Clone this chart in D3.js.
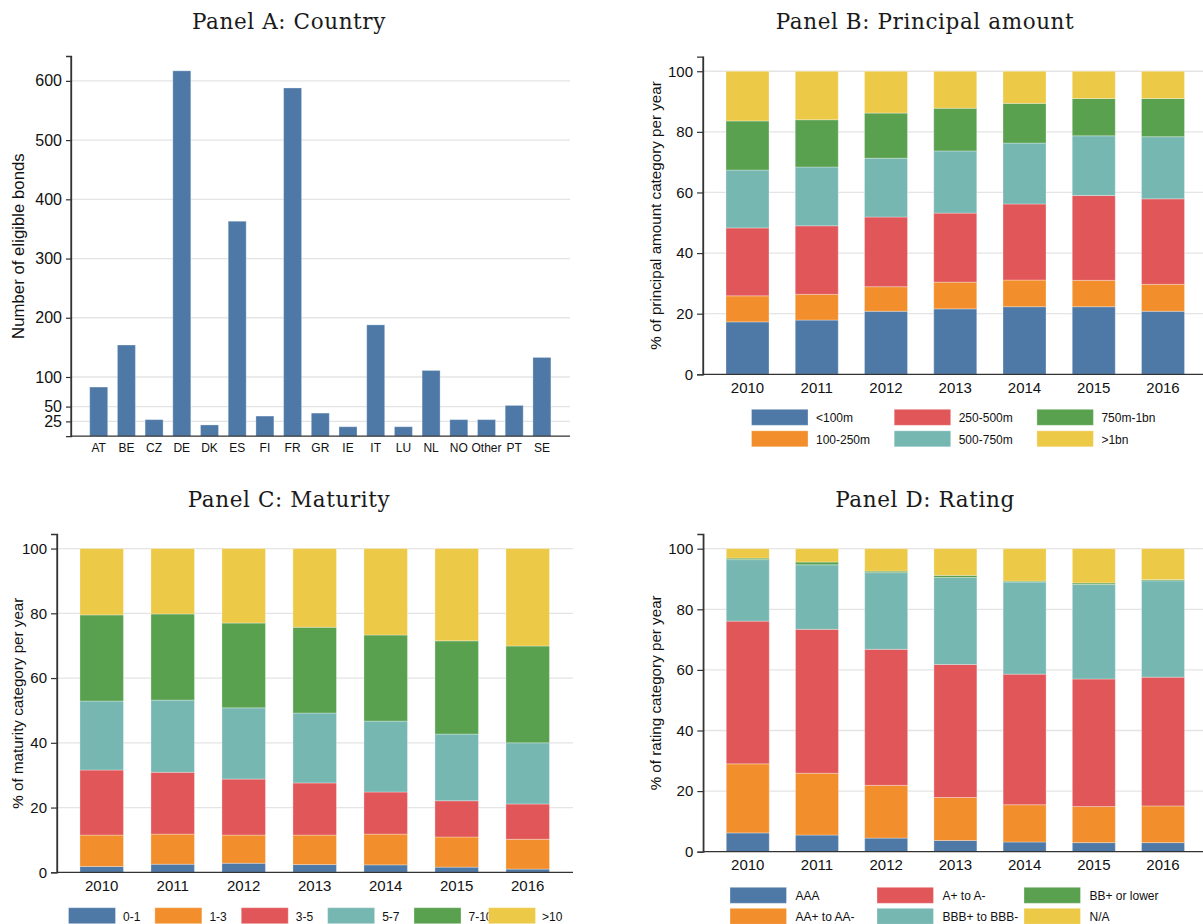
<!DOCTYPE html>
<html>
<head>
<meta charset="utf-8">
<script src="https://cdn.jsdelivr.net/npm/d3@7"></script>
<style>
  body { margin: 0; background: #fff; }
  svg { display: block; }
  .tick text { font-family: "Liberation Sans", Arial, sans-serif; fill: #111; }
  .title { font-family: "DejaVu Serif", serif; font-size: 21.5px; letter-spacing: 0.6px; fill: #1a1a1a; }
  .axlabel { font-family: "Liberation Sans", Arial, sans-serif; fill: #111; }
  .leg { font-family: "Liberation Sans", Arial, sans-serif; font-size: 12px; fill: #111; }
</style>
</head>
<body>
<svg id="chart" width="1203" height="924"></svg>
<script>
// ---------------- DATA ----------------
const countries = ["AT","BE","CZ","DE","DK","ES","FI","FR","GR","IE","IT","LU","NL","NO","Other","PT","SE"];
const countryBonds = [83,154,28,617,19,363,34,588,39,16,188,16,111,28,28,52,133];
const countryTicks = [25,50,100,200,300,400,500,600];

const years = ["2010","2011","2012","2013","2014","2015","2016"];
const pctTicks = [0,20,40,60,80,100];

// Panel B: principal amount (% per year)
const principalCats = ["<100m","100-250m","250-500m","500-750m","750m-1bn",">1bn"];
const prLt100m   = [17.3,17.9,20.8,21.6,22.3,22.3,20.8];
const pr100_250m = [8.6,8.5,8.1,8.8,8.8,8.7,8.9];
const pr250_500m = [22.4,22.6,23.0,22.8,25.1,28.0,28.2];
const pr500_750m = [19.1,19.4,19.4,20.5,20.1,19.7,20.5];
const pr750m_1bn = [16.2,15.6,14.9,14.1,13.1,12.3,12.6];
const prGt1bn    = [16.4,16.0,13.8,12.2,10.6,9.0,9.0];

// Panel C: maturity (% per year)
const maturityCats = ["0-1","1-3","3-5","5-7","7-10",">10"];
const mat0_1  = [1.8,2.5,2.8,2.4,2.3,1.6,1.0];
const mat1_3  = [9.7,9.3,8.7,9.1,9.5,9.3,9.2];
const mat3_5  = [20.1,19.1,17.3,16.1,13.0,11.2,10.9];
const mat5_7  = [21.3,22.3,22.0,21.6,21.9,20.6,18.9];
const mat7_10 = [26.6,26.6,26.2,26.5,26.6,28.8,29.9];
const matGt10 = [20.5,20.2,23.0,24.3,26.7,28.5,30.1];

// Panel D: rating (% per year)
const ratingCats = ["AAA","AA+ to AA-","A+ to A-","BBB+ to BBB-","BB+ or lower","N/A"];
const ratAAA = [6.2,5.5,4.5,3.7,3.2,3.0,3.0];
const ratAA  = [22.8,20.4,17.4,14.2,12.3,11.9,12.1];
const ratA   = [47.1,47.5,44.9,43.9,43.1,42.1,42.5];
const ratBBB = [20.3,21.3,25.3,28.7,30.4,31.2,31.8];
const ratBB  = [0.5,0.9,0.5,0.7,0.3,0.5,0.4];
const ratNA  = [3.1,4.4,7.4,8.8,10.7,11.3,10.2];

const palette = ["#4e79a7","#f28e2b","#e15759","#76b7b2","#59a14f","#edc948"];

// ---------------- HELPERS ----------------
const svg = d3.select("#chart");
const FONT = '"Liberation Sans", Arial, sans-serif';

function rows(cats, series) {
  return years.map((yr, i) => {
    const o = { year: yr };
    cats.forEach((c, k) => { o[c] = series[k][i]; });
    return o;
  });
}

function gridAndYAxis(g, y, x0, x1, ticks, fs, tickLen, labelPad) {
  g.append("g").selectAll("line").data(ticks.filter(t => t > 0)).join("line")
    .attr("x1", x0).attr("x2", x1)
    .attr("y1", d => y(d)).attr("y2", d => y(d))
    .attr("stroke", "#e4e4e4").attr("stroke-width", 1.3);
  const ax = g.append("g").attr("transform", `translate(${x0},0)`)
    .call(d3.axisLeft(y).tickValues(ticks).tickSize(tickLen).tickPadding(labelPad).tickFormat(d3.format("d")));
  ax.select(".domain").attr("stroke", "#333").attr("stroke-width", 1.3);
  ax.selectAll(".tick line").attr("stroke", "#333").attr("stroke-width", 1.2);
  ax.selectAll(".tick text").style("font-size", fs + "px");
  return ax;
}

function xAxis(g, x, y0, x0, x1, fs, dy) {
  g.append("line").attr("x1", x0).attr("x2", x1).attr("y1", y0).attr("y2", y0)
    .attr("stroke", "#333").attr("stroke-width", 1.3);
  g.append("g").selectAll("text").data(x.domain()).join("text")
    .attr("x", d => x(d) + x.bandwidth() / 2)
    .attr("y", y0 + dy)
    .attr("text-anchor", "middle")
    .style("font-family", FONT).style("font-size", fs + "px").attr("fill", "#111")
    .text(d => d);
}

function yLabel(g, text, cx, cy, fs) {
  g.append("text").attr("class", "axlabel")
    .attr("transform", `translate(${cx},${cy}) rotate(-90)`)
    .attr("text-anchor", "middle")
    .style("font-size", fs + "px")
    .text(text);
}

function title(text, cx, cy) {
  svg.append("text").attr("class", "title").attr("x", cx).attr("y", cy)
    .attr("text-anchor", "middle").text(text);
}

function stackedPanel(opts) {
  const { cats, series, x0, x1, yTop, yBottom, domTop, range, pi, po, label, labelX, tickFs, xFs, xDy } = opts;
  const g = svg.append("g");
  const x = d3.scaleBand().domain(years).range(range).paddingInner(pi).paddingOuter(po);
  const y = d3.scaleLinear().domain([0, domTop]).range([yBottom, yTop]);
  gridAndYAxis(g, y, x0, x1, pctTicks, tickFs, 6, 4);
  const stack = d3.stack().keys(cats)(rows(cats, series));
  g.append("g").selectAll("g").data(stack).join("g")
    .attr("fill", (d, i) => palette[i])
    .selectAll("rect").data(d => d).join("rect")
    .attr("x", d => x(d.data.year))
    .attr("width", x.bandwidth())
    .attr("y", d => y(d[1]))
    .attr("height", d => y(d[0]) - y(d[1]))
    .attr("stroke", "#ffffff").attr("stroke-opacity", 0.3).attr("stroke-width", 1);
  xAxis(g, x, yBottom, x0, x1, xFs, xDy);
  yLabel(g, label, labelX, (yTop + yBottom) / 2, 15.2);
  g.append("line").attr("x1", x0).attr("x2", x0).attr("y1", yTop).attr("y2", yBottom)
    .attr("stroke", "#333").attr("stroke-width", 1.3);
  return g;
}

function legendGrid(cats, startX, colStep, startY, rowStep, swW, swH, textOff, nRows) {
  const g = svg.append("g");
  cats.forEach((c, i) => {
    const col = Math.floor(i / nRows), row = i % nRows;
    const lx = startX + col * colStep, ly = startY + row * rowStep;
    g.append("rect").attr("x", lx).attr("y", ly).attr("width", swW).attr("height", swH)
      .attr("fill", palette[i]).attr("stroke", "#fff").attr("stroke-opacity", 0.3);
    g.append("text").attr("class", "leg").attr("x", lx + swW + textOff).attr("y", ly + swH - 3).text(c);
  });
}

// ---------------- PANEL A ----------------
(function () {
  const g = svg.append("g");
  const x0 = 71, x1 = 570, yTop = 56, yBottom = 436.2;
  const x = d3.scaleBand().domain(countries).range([71, 569.6]).paddingInner(0.35).paddingOuter(0.675);
  const y = d3.scaleLinear().domain([0, 642]).range([yBottom, yTop]);
  gridAndYAxis(g, y, x0, x1, countryTicks, 16, 5, 4);
  g.append("g").selectAll("rect").data(countries).join("rect")
    .attr("x", d => x(d)).attr("width", x.bandwidth())
    .attr("y", (d, i) => y(countryBonds[i]))
    .attr("height", (d, i) => yBottom - y(countryBonds[i]))
    .attr("fill", palette[0]).attr("stroke", "#fff").attr("stroke-opacity", 0.3).attr("stroke-width", 1);
  xAxis(g, x, yBottom, x0, x1, 12, 16);
  g.append("line").attr("x1", x0).attr("x2", x0).attr("y1", yTop).attr("y2", yBottom)
    .attr("stroke", "#333").attr("stroke-width", 1.3);
  yLabel(g, "Number of eligible bonds", 24, (yTop + yBottom) / 2, 16.8);
  title("Panel A: Country", 289, 29);
})();

// ---------------- PANEL B ----------------
stackedPanel({
  cats: principalCats,
  series: [prLt100m, pr100_250m, pr250_500m, pr500_750m, pr750m_1bn, prGt1bn],
  x0: 703, x1: 1203, yTop: 56.7, yBottom: 374.3, domTop: 104.8,
  range: [703, 1207.5], pi: 0.379, po: 0.332,
  label: "% of principal amount category per year", labelX: 661,
  tickFs: 15, xFs: 15, xDy: 18.5
});
title("Panel B: Principal amount", 925, 29);
legendGrid(principalCats, 751.5, 142.7, 409.3, 21.5, 56.5, 16, 8, 2);

// ---------------- PANEL C ----------------
stackedPanel({
  cats: maturityCats,
  series: [mat0_1, mat1_3, mat3_5, mat5_7, mat7_10, matGt10],
  x0: 57, x1: 573, yTop: 534, yBottom: 872.3, domTop: 104.5,
  range: [57, 572.4], pi: 0.387, po: 0.323,
  label: "% of maturity category per year", labelX: 23,
  tickFs: 15, xFs: 15, xDy: 18.5
});
title("Panel C: Maturity", 289, 507);
(function () {
  const g = svg.append("g");
  const lx = d3.scalePoint().domain(maturityCats.slice(0, 5)).range([68.5, 414]);
  maturityCats.forEach((c, i) => {
    const sx = i < 5 ? lx(c) : 488.5;
    g.append("rect").attr("x", sx).attr("y", 907.7).attr("width", 47).attr("height", 16)
      .attr("fill", palette[i]).attr("stroke", "#fff").attr("stroke-opacity", 0.3);
    const tx = i < 5 ? sx + 54.5 : 542;
    g.append("text").attr("class", "leg").attr("x", tx).attr("y", 920.5).text(c);
  });
})();

// ---------------- PANEL D ----------------
stackedPanel({
  cats: ratingCats,
  series: [ratAAA, ratAA, ratA, ratBBB, ratBB, ratNA],
  x0: 703.3, x1: 1203, yTop: 534, yBottom: 851.7, domTop: 104.85,
  range: [703.3, 1207.5], pi: 0.379, po: 0.332,
  label: "% of rating category per year", labelX: 661,
  tickFs: 15, xFs: 15, xDy: 18
});
title("Panel D: Rating", 925, 507);
legendGrid(ratingCats, 730, 147, 887.3, 21, 56.5, 16, 9, 2);
</script>
</body>
</html>
